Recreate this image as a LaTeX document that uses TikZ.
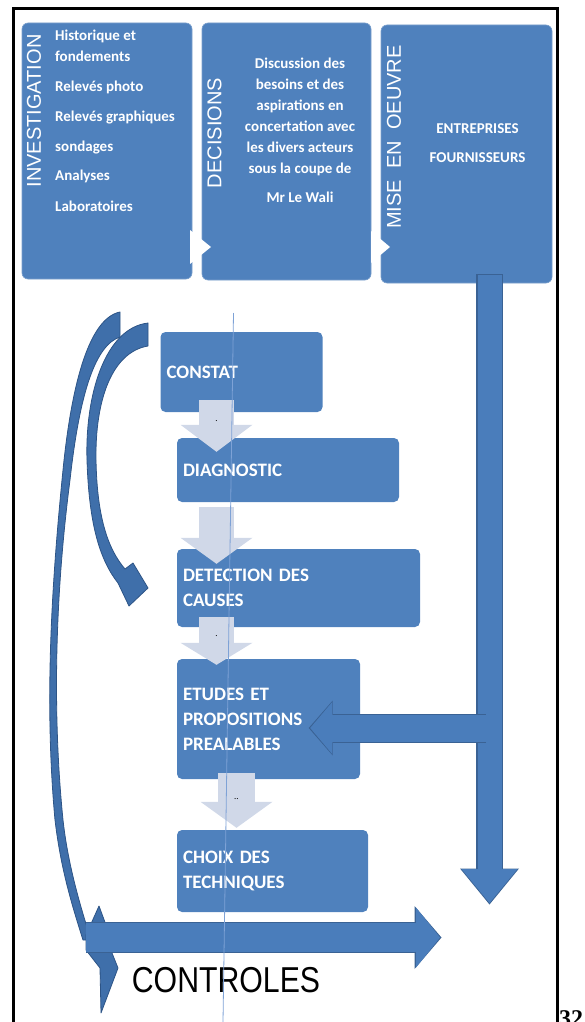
\documentclass[tikz,border=0pt]{standalone}
\usepackage{fontspec}
\setmainfont{Carlito}
\newfontfamily\labelfont{Liberation Sans}
\newfontfamily\pagefont{Liberation Serif}
\usetikzlibrary{arrows.meta,calc}
\definecolor{boxblue}{HTML}{4F81BD}
\definecolor{arrowblue}{HTML}{4A7DBB}
\definecolor{arrowedge}{HTML}{3A6294}
\definecolor{curveblue}{HTML}{3F6FAA}
\definecolor{curveedge}{HTML}{2D5486}
\definecolor{lightblue}{HTML}{D0D8E8}
\definecolor{guideblue}{HTML}{7EA2D6}
\tikzset{
	topbox/.style={draw=boxblue!75!white, line width=0.6pt, fill=boxblue, rounded corners=6pt, inner sep=0pt},
	flowbox/.style={fill=boxblue, rounded corners=5pt, text=white, align=left, inner xsep=6pt, inner ysep=0pt, font=\bfseries\fontsize{19}{25}\selectfont},
	sidelabel/.style={rotate=90, text=white, inner sep=0pt, font=\labelfont\fontsize{20}{20}\selectfont},
	boxtext/.style={text=white, inner sep=0pt, font=\bfseries\fontsize{15}{21}\selectfont},
	lightarrow/.style n args={3}{draw=lightblue, line width=#1, -{Triangle[width=#2, length=#3, line width=0pt]}},
	bluearrow/.style n args={3}{draw=arrowblue, line width=#1, -{Triangle[width=#2, length=#3, line width=0pt]}},
	arrowrim/.style n args={3}{draw=arrowedge, line width=#1, -{Triangle[width=#2, length=#3, line width=0pt]}},
	curvearrow/.style={fill=curveblue, draw=curveedge, line width=0.8pt, line join=round},
	dotmark/.style={text=black, inner sep=0pt, font=\fontsize{9}{9}\selectfont},
	guide/.style={draw=guideblue, line width=0.8pt}
}
\begin{document}
\begin{tikzpicture}[x=1pt,y=-1pt]
	\useasboundingbox (0,0) rectangle (584,1022);
	\node[topbox, minimum width=170pt, minimum height=256pt](invest) at (107,151){};
	\node[topbox, minimum width=169pt, minimum height=257pt](decis) at (286.5,151.5){};
	\node[topbox, minimum width=171pt, minimum height=258pt](oeuvre) at (466.5,154){};
	\fill[white] (190,230) -- (211,247) -- (190,264) -- cycle;
	\fill[white] (371,231) -- (390,247) -- (371,263) -- cycle;
	\node[sidelabel](investlbl) at (34,111){INVESTIGATION};
	\node[sidelabel](decislbl) at (214.5,133){DECISIONS};
	\node[sidelabel](oeuvrelbl) at (394,137){MISE\ \ EN\ \ OEUVRE};
	\node[boxtext, anchor=north west, align=left](investlist) at (55,30){Historique et\\fondements\\[9pt]Relevés photo\\[9pt]Relevés graphiques\\[9pt]sondages\\[8pt]Analyses\\[10pt]Laboratoires};
	\node[boxtext, anchor=north, align=center](decistext) at (300,58){Discussion des\\besoins et des\\aspirations en\\concertation avec\\les divers acteurs\\sous la coupe de\\[8pt]Mr Le Wali};
	\node[boxtext, anchor=north, align=center, font=\bfseries\fontsize{15}{29}\selectfont](oeuvretext) at (477.5,123){ENTREPRISES\\FOURNISSEURS};

	\coordinate(downend) at (489.5,903);
	\draw[arrowrim={27pt}{59pt}{36pt}] ($(oeuvre.south -| downend)+(0,-9)$) -- ($(downend)+(0,1.5)$);
	\draw[bluearrow={24pt}{56pt}{34pt}] ($(oeuvre.south -| downend)+(0,-8)$) -- (downend);

	\node[flowbox, text width=150pt, minimum height=80pt](constat) at (241.5,372){CONSTAT};
	\node[flowbox, text width=210pt, minimum height=64pt](diag) at (288,470){DIAGNOSTIC};
	\node[flowbox, text width=231pt, minimum height=78pt](detect) at (298.5,588){DETECTION DES\\CAUSES};
	\node[flowbox, text width=171pt, minimum height=120pt](etudes) at (268.5,719){ETUDES ET\\PROPOSITIONS\\PREALABLES};
	\node[flowbox, text width=179pt, minimum height=82pt](choix) at (272.5,871){CHOIX DES\\TECHNIQUES};

	\coordinate(axis) at (216.5,0);
	\coordinate(axisb) at (236.5,0);
	\draw[lightarrow={35pt}{72pt}{27pt}] ($(constat.south -| axis)+(0,-12)$) -- ($(diag.north -| axis)+(0,14)$) node[dotmark, pos=0.4]{.};
	\draw[lightarrow={35pt}{72pt}{26pt}] ($(diag.south -| axis)+(0,5)$) -- ($(detect.north -| axis)+(0,15)$);
	\draw[lightarrow={35pt}{72pt}{22pt}] ($(detect.south -| axis)+(0,-10)$) -- ($(etudes.north -| axis)+(0,6)$) node[dotmark, pos=0.4]{.};
	\draw[lightarrow={37pt}{72pt}{26pt}] ($(etudes.south -| axisb)+(0,-6)$) -- ($(choix.north -| axisb)+(0,-2)$) node[dotmark, pos=0.47]{..};

	\coordinate(joint) at (486,728);
	\draw[arrowrim={29pt}{55pt}{24pt}] (joint) -- ($(etudes.east |- joint)+(-51.5,0)$);
	\draw[bluearrow={27pt}{52pt}{22pt}] (joint) -- ($(etudes.east |- joint)+(-50,0)$);

	\filldraw[curvearrow] (148,323) .. controls (105,328) and (85,395) .. (87,460) .. controls (89,525) and (100,560) .. (118,583) -- (129,606) -- (148,588) -- (133,563) -- (125,569) .. controls (107,548) and (97,515) .. (96,460) .. controls (95,400) and (112,352) .. (148,346) -- cycle;
	\filldraw[curvearrow] (120,312) .. controls (90,318) and (72,380) .. (63,470) .. controls (52,580) and (44,700) .. (55,820) .. controls (61,870) and (72,905) .. (83,940) -- (91,940) .. controls (80,905) and (68,865) .. (63,820) .. controls (51,700) and (57,580) .. (70,480) .. controls (80,390) and (96,345) .. (120,337) -- cycle;
	\filldraw[curvearrow] (86,935) -- (99,906) -- (106,925) -- (112,953) -- (118,968) -- (101,1013) -- (100,968) -- (86,950) -- cycle;

	\coordinate(ctrlstart) at (86,937.5);
	\coordinate(ctrlend) at (440,937.5);
	\draw[arrowrim={31pt}{63pt}{27pt}] (ctrlstart) -- ($(ctrlend)+(1.5,0)$);
	\draw[bluearrow={29pt}{60pt}{24pt}] (ctrlstart) -- (ctrlend);
	\node[inner sep=0pt, xscale=0.84, font=\labelfont\fontsize{36}{36}\selectfont](controles) at (226,980){CONTROLES};

	\coordinate(guidetop) at (233.5,313);
	\coordinate(guidebot) at (223,1022);
	\draw[guide] (guidetop) -- (guidebot);

	\draw[line width=3pt] (13.5,1022) -- (13.5,8.5) -- (557.5,8.5) -- (557.5,1022);
	\node[anchor=base west, inner sep=0pt, font=\pagefont\bfseries\fontsize{24}{24}\selectfont](pagenum) at (559,1026){32};
\end{tikzpicture}
\end{document}
